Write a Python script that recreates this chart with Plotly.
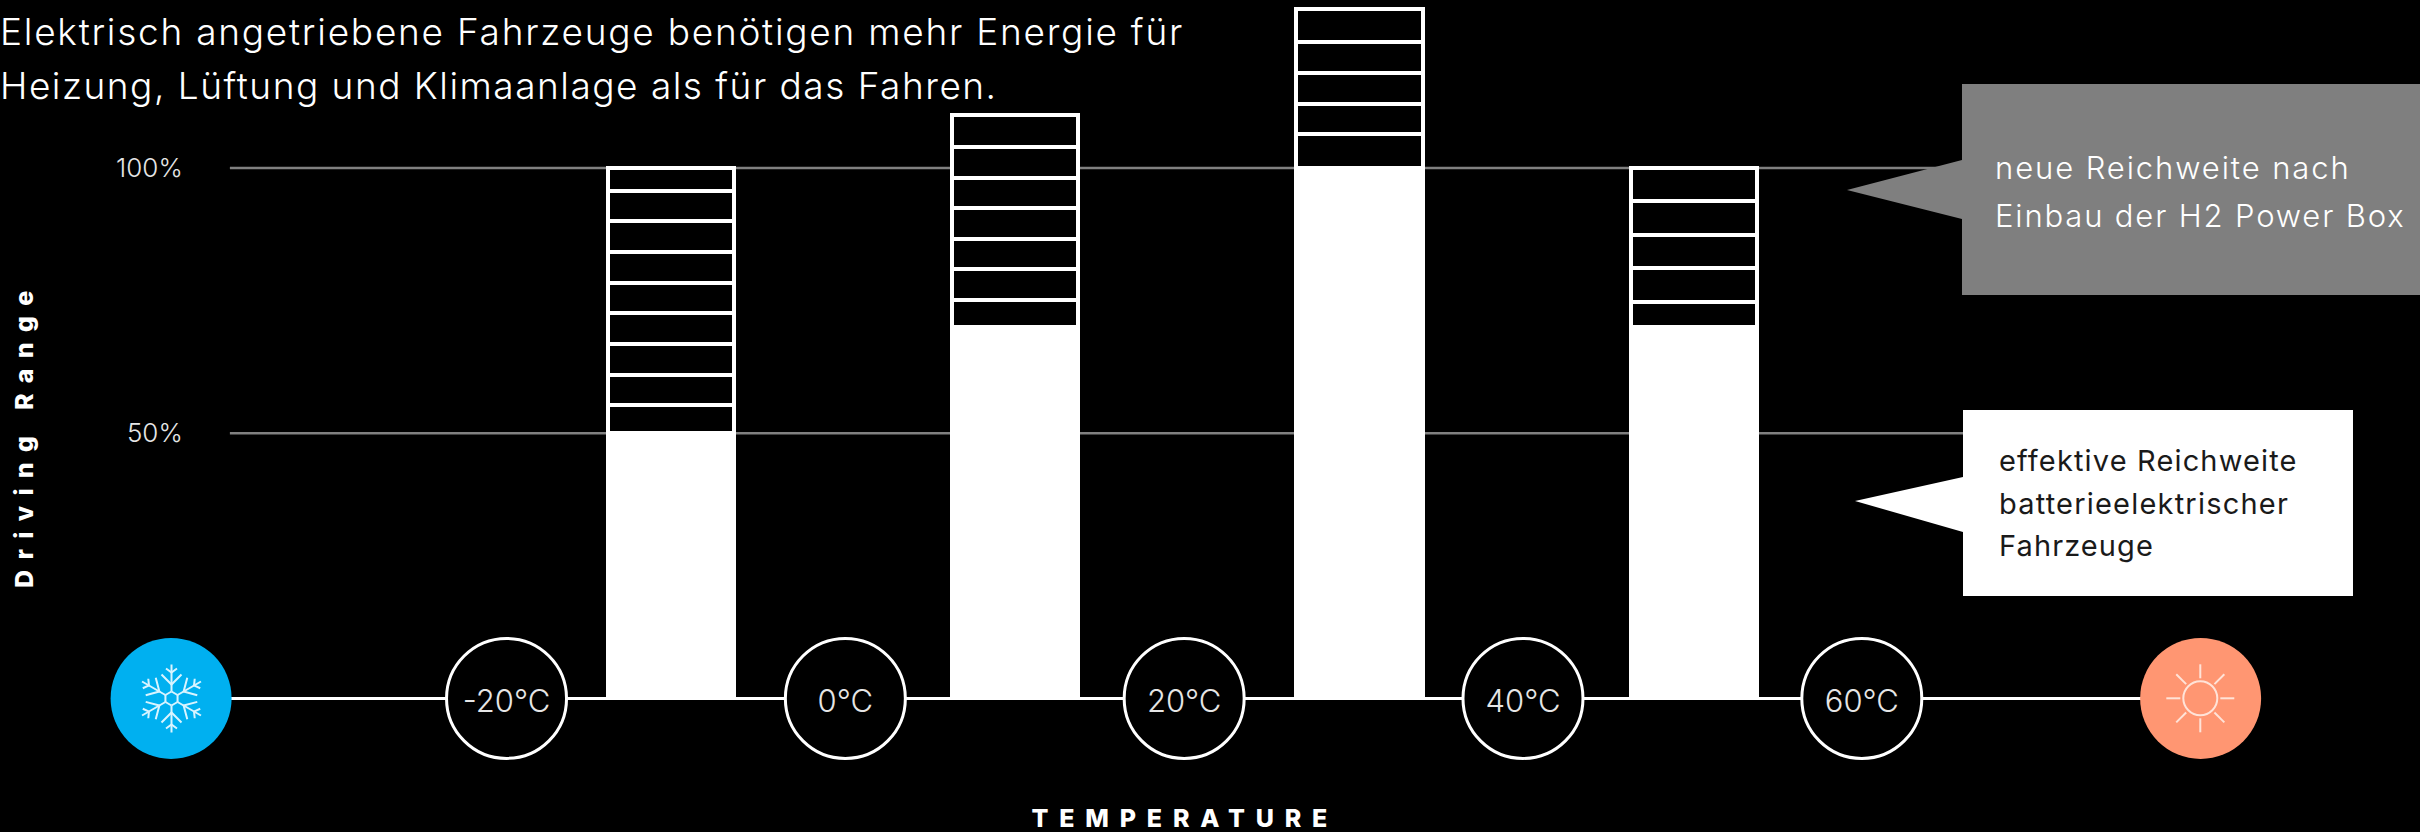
import json
import math
import plotly.graph_objects as go

W, H = 2420, 832
FONT = "Inter"

# Bars: temperature position, effective range and the ladder of extra range above it
bar_temps = [-10.3, 10, 30.35, 50.1]
effective_range = [50, 70, 100, 70]
rungs_m10 = [55.3, 61.0, 66.8, 72.7, 78.3, 84.2, 90.0, 95.7, 100.0]
rungs_10 = [75.1, 80.9, 86.6, 92.4, 98.2, 104.0, 110.0]
rungs_30 = [106.4, 112.1, 117.9, 123.7, 130.0]
rungs_50 = [74.8, 81.1, 87.4, 93.7, 100.0]
all_rungs = [rungs_m10, rungs_10, rungs_30, rungs_50]

# Temperature scale
scale_temps = [-20, 0, 20, 40, 60]
scale_labels = ["-20°C", "0°C", "20°C", "40°C", "60°C"]
cold_temp, hot_temp = -39.8, 80
axis_level = 0
badge_text_level = -1.1

y_ticks = [50, 100]
y_ticklabels = ["50%", "100%"]
grid_start, grid_end = -36.33, 66.4

title_lines = ["Elektrisch angetriebene Fahrzeuge benötigen mehr Energie für",
               "Heizung, Lüftung und Klimaanlage als für das Fahren."]
gray_lines = ["neue Reichweite nach", "Einbau der H2 Power Box"]
white_lines = ["effektive Reichweite", "batterieelektrischer", "Fahrzeuge"]
x_title = "TEMPERATURE"
y_title = "Driving Range"

GRAY = "#7f7f7f"
BLUE = "#00b0f0"
ORANGE = "#ff9672"
LINE = 4
BAR_WIDTH = 7.44


def px(x, y):
    return x / W, 1 - y / H


def poly(points, **kw):
    pts = [px(*p) for p in points]
    path = "M " + " L ".join(f"{a:.5f},{b:.5f}" for a, b in pts)
    return dict(type="path", xref="paper", yref="paper", path=path + kw.pop("close", ""), **kw)


fig = go.Figure()

# Solid effective-range bars
fig.add_bar(x=bar_temps, y=effective_range, width=BAR_WIDTH,
            marker=dict(color="white", line=dict(color="white", width=LINE)))

# Ladder cells stacked on top of each bar
for t, base, rungs in zip(bar_temps, effective_range, all_rungs):
    prev = base
    for level in rungs:
        fig.add_bar(x=[t], y=[level - prev], width=BAR_WIDTH,
                    marker=dict(color="black", line=dict(color="white", width=LINE)))
        prev = level

# Temperature axis line
fig.add_scatter(x=[cold_temp, hot_temp], y=[axis_level, axis_level], mode="lines",
                line=dict(color="white", width=3))

# Temperature badges and their labels
fig.add_scatter(x=scale_temps, y=[axis_level] * len(scale_temps), mode="markers",
                marker=dict(size=120, color="black", line=dict(color="white", width=3)))
fig.add_scatter(x=scale_temps, y=[badge_text_level] * len(scale_temps), mode="text",
                text=scale_labels, textposition="middle center",
                textfont=dict(family=FONT, size=31, color="#e6e6e6", weight=300))

# Cold and hot end caps
fig.add_scatter(x=[cold_temp, hot_temp], y=[axis_level, axis_level], mode="markers",
                marker=dict(size=121, color=[BLUE, ORANGE], line=dict(width=0)))

shapes = []

# Horizontal reference lines behind the bars
for level in y_ticks:
    shapes.append(dict(type="line", xref="x", yref="y", x0=grid_start, x1=grid_end,
                       y0=level, y1=level, line=dict(color="#808080", width=2.4), layer="below"))

# Callouts
shapes.append(poly([(1962, 84), (2420, 84), (2420, 295), (1962, 295), (1962, 219),
                    (1847, 190), (1962, 160)], close=" Z", fillcolor=GRAY,
                   line=dict(width=0), layer="above"))
shapes.append(poly([(1963, 410), (2353, 410), (2353, 596), (1963, 596), (1963, 532),
                    (1855, 501), (1963, 477)], close=" Z", fillcolor="white",
                   line=dict(width=0), layer="above"))

# Snowflake glyph
cx, cy = 171.5, 698.5
FLAKE = dict(color="#d9f4ff", width=2)
for k in range(6):
    a = math.radians(90 + 60 * k)
    u = (math.cos(a), -math.sin(a))
    v = (-u[1], u[0])

    def at(r, s=0.0):
        return (cx + r * u[0] + s * v[0], cy + r * u[1] + s * v[1])

    shapes.append(poly([at(7), at(34)], line=FLAKE, layer="above"))
    shapes.append(poly([at(24, -10), at(14), at(24, 10)], line=FLAKE, layer="above"))
    shapes.append(poly([at(30, -5.5), at(26), at(30, 5.5)], line=FLAKE, layer="above"))
    b = math.radians(90 + 60 * k + 60)
    shapes.append(poly([at(7), (cx + 7 * math.cos(b), cy - 7 * math.sin(b))],
                       line=FLAKE, layer="above"))

# Sun glyph
sx, sy = 2200.3, 698.3
SUN = dict(color="#ffe3d8", width=2)
shapes.append(dict(type="circle", xref="paper", yref="paper",
                   x0=px(sx - 17, 0)[0], x1=px(sx + 17, 0)[0],
                   y0=px(0, sy + 17)[1], y1=px(0, sy - 17)[1],
                   line=SUN, layer="above"))
for k in range(8):
    a = math.radians(45 * k)
    shapes.append(poly([(sx + 20 * math.cos(a), sy + 20 * math.sin(a)),
                        (sx + 34 * math.cos(a), sy + 34 * math.sin(a))],
                       line=SUN, layer="above"))


def label(text, x, y, size, color="white", weight=300, anchor="left", angle=0):
    xp, yp = px(x, y)
    return dict(text=text, x=xp, y=yp, xref="paper", yref="paper", showarrow=False,
                xanchor=anchor, align=anchor, yanchor="middle", textangle=angle, borderpad=0,
                font=dict(family=FONT, size=size, color=color, weight=weight))


annotations = [
    label(title_lines[0], -1, 32, 37),
    label(title_lines[1], -1, 86, 37),
    label(gray_lines[0], 1994, 168, 31),
    label(gray_lines[1], 1994, 215, 31),
    label(white_lines[0], 1998, 460, 29, color="#1a1a1a", weight=400),
    label(white_lines[1], 1998, 503, 29, color="#1a1a1a", weight=400),
    label(white_lines[2], 1998, 545, 29, color="#1a1a1a", weight=400),
    label(x_title, 1185, 818, 25, weight=800, anchor="center"),
    label(y_title, 24, 434, 25, weight=800, anchor="center", angle=-90),
]

fig.update_layout(
    width=W, height=H, autosize=False,
    margin=dict(l=0, r=0, t=0, b=0),
    paper_bgcolor="black", plot_bgcolor="black",
    barmode="stack", bargap=0, showlegend=False, hovermode=False,
    shapes=shapes, annotations=annotations,
    font=dict(family=FONT, color="white"),
    xaxis=dict(domain=[0, 1], range=[-49.9, 92.95], visible=False,
               showgrid=False, zeroline=False),
    yaxis=dict(domain=[0, 1], range=[-25.19, 131.67], tickvals=y_ticks, ticktext=y_ticklabels,
               anchor="free", position=230 / W,
               showgrid=False, zeroline=False,
               showline=False, ticks="outside", ticklen=42, tickcolor="rgba(0,0,0,0)",
               tickfont=dict(family=FONT, size=26, color="#e6e6e6", weight=300)),
)

# Tracking for the wide-set text, in pixels per character
tracking = {title_lines[0]: 1.75, title_lines[1]: 1.5,
            gray_lines[0]: 1.9, gray_lines[1]: 1.85,
            white_lines[0]: 1.15, white_lines[1]: 1.2, white_lines[2]: 1.1,
            x_title: 10.8, y_title: 10.3}
spacing_js = (
    "var tracking = " + json.dumps(tracking, ensure_ascii=False) + ";"
    "document.querySelectorAll('.annotation-text').forEach(function (t) {"
    "  var s = tracking[t.textContent];"
    "  if (s) { t.style.letterSpacing = s + 'px'; }"
    "});"
)

fig.write_html("out.html", config=dict(displayModeBar=False), post_script=spacing_js)
